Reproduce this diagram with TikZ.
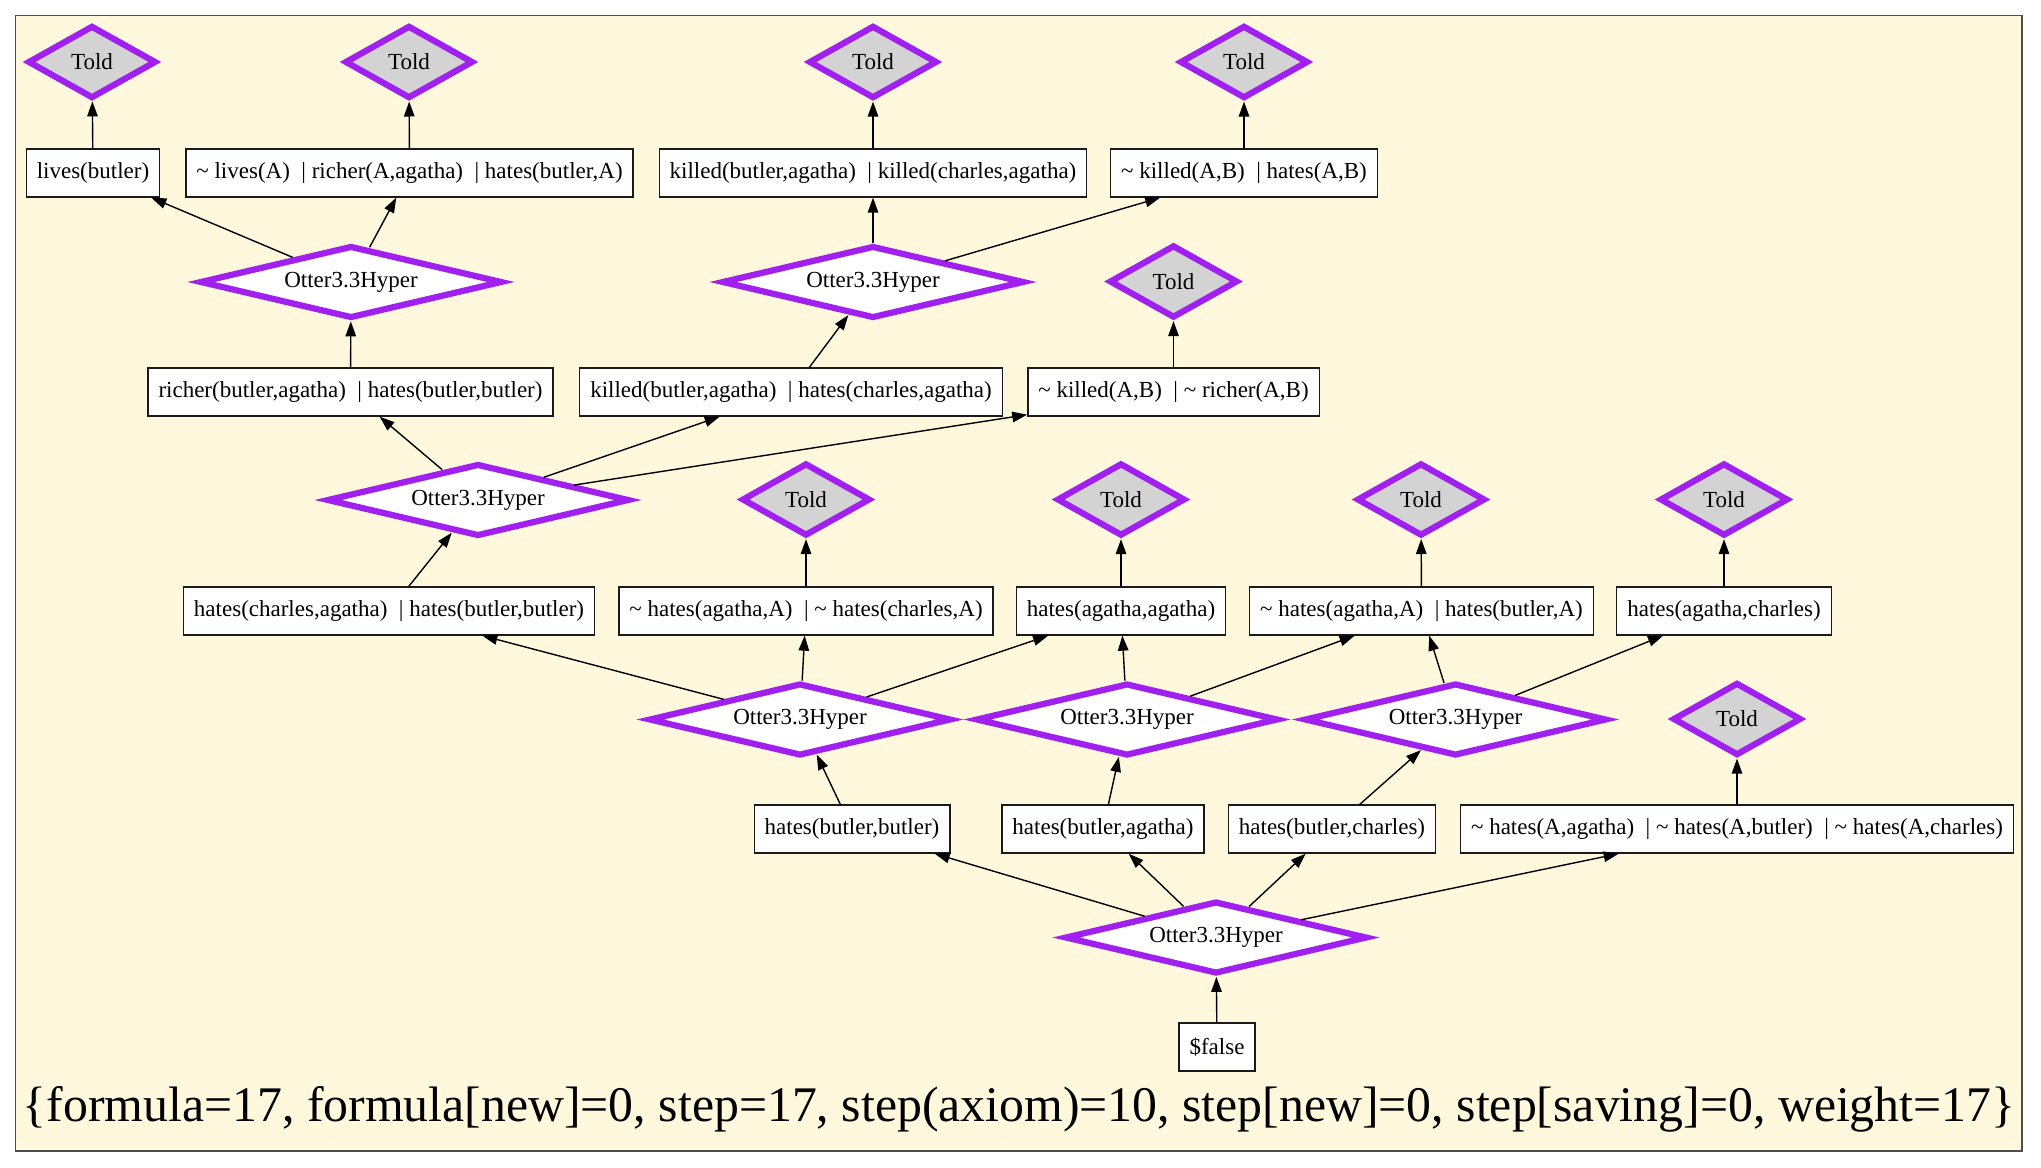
\documentclass[tikz,border=0pt]{standalone}
\usepackage{fontspec}
\setmainfont{Liberation Serif}
\usetikzlibrary{shapes.geometric,arrows.meta}
\definecolor{hyperpurple}{HTML}{A020F0}
\definecolor{toldgray}{HTML}{D3D3D3}
\definecolor{canvas}{HTML}{FFF8DC}
\definecolor{framegray}{HTML}{4D4D4D}
\definecolor{boxline}{HTML}{1A1A1A}
% negated literal and disjunction separator
\newcommand\notsym{\textasciitilde\ }
\newcommand\sepbar{\ \ |\ }

\begin{document}
\begin{tikzpicture}[x=1pt,y=-1pt,
  every node/.style={font=\fontsize{23}{27}\selectfont},
  clause/.style={rectangle, draw=boxline, line width=1.3pt, fill=white,
    minimum height=48pt, inner xsep=10.5pt, inner ysep=0pt},
  told/.style={diamond, draw=hyperpurple, line width=6.2pt, fill=toldgray,
    shape aspect=1.76, minimum width=128.5pt, minimum height=73pt, inner sep=0pt},
  hyper/.style={diamond, draw=hyperpurple, line width=6.2pt, fill=white,
    shape aspect=4.16, minimum width=302.5pt, minimum height=72.7pt, inner sep=0pt},
  link/.style={draw=black, line width=1.4pt, -{Triangle[length=15pt,width=10.5pt]}},
]
\useasboundingbox (0,0) rectangle (2041,1167);
\fill[white] (0,0) rectangle (2041,1167);
\draw[framegray, line width=1.5pt, fill=canvas] (15.6,15.7) rectangle (2022,1151);

% row 1: axioms
\node[told] (t1) at (92,62) {Told};
\node[told] (t2) at (409,62) {Told};
\node[told] (t3) at (873,62) {Told};
\node[told] (t4) at (1244,62) {Told};

% row 2
\node[clause] (b1) at (93,173) {lives(butler)};
\node[clause] (b2) at (409.5,173) {\notsym lives(A)\sepbar richer(A,agatha)\sepbar hates(butler,A)};
\node[clause] (b3) at (873,173) {killed(butler,agatha)\sepbar killed(charles,agatha)};
\node[clause] (b4) at (1244,173) {\notsym killed(A,B)\sepbar hates(A,B)};

% row 3
\node[hyper] (h1) at (351,282) {Otter3.3Hyper};
\node[hyper] (h2) at (873,282) {Otter3.3Hyper};
\node[told] (t5) at (1173.5,281.5) {Told};

% row 4
\node[clause] (b5) at (350.5,392) {richer(butler,agatha)\sepbar hates(butler,butler)};
\node[clause] (b6) at (791,392) {killed(butler,agatha)\sepbar hates(charles,agatha)};
\node[clause] (b7) at (1173.5,392) {\notsym killed(A,B)\sepbar\notsym richer(A,B)};

% row 5
\node[hyper] (h3) at (478,500) {Otter3.3Hyper};
\node[told] (t6) at (806,499.5) {Told};
\node[told] (t7) at (1121,499.5) {Told};
\node[told] (t8) at (1421,499.5) {Told};
\node[told] (t9) at (1724,499.5) {Told};

% row 6
\node[clause] (b8) at (389,611) {hates(charles,agatha)\sepbar hates(butler,butler)};
\node[clause] (b9) at (806,611) {\notsym hates(agatha,A)\sepbar\notsym hates(charles,A)};
\node[clause] (b10) at (1121,611) {hates(agatha,agatha)};
\node[clause] (b11) at (1421.5,611) {\notsym hates(agatha,A)\sepbar hates(butler,A)};
\node[clause] (b12) at (1724,611) {hates(agatha,charles)};

% row 7
\node[hyper] (h4) at (800,719.5) {Otter3.3Hyper};
\node[hyper] (h5) at (1127,719.5) {Otter3.3Hyper};
\node[hyper] (h6) at (1455.5,719.5) {Otter3.3Hyper};
\node[told] (t10) at (1737,719) {Told};

% row 8
\node[clause] (b13) at (852,829) {hates(butler,butler)};
\node[clause] (b14) at (1103,829) {hates(butler,agatha)};
\node[clause] (b15) at (1332,829) {hates(butler,charles)};
\node[clause] (b16) at (1737,829) {\notsym hates(A,agatha)\sepbar\notsym hates(A,butler)\sepbar\notsym hates(A,charles)};

% row 9
\node[hyper] (h7) at (1216,937.5) {Otter3.3Hyper};
\node[clause] (f) at (1217,1047) {\$false};

% statistics
\node[font=\fontsize{49.8}{56}\selectfont] (stats) at (1019,1109)
  {\{formula=17, formula[new]=0, step=17, step(axiom)=10, step[new]=0, step[saving]=0, weight=17\}};

% derivation edges
\draw[link] (b1) -- (t1);
\draw[link] (b2) -- (t2);
\draw[link] (b3) -- (t3);
\draw[link] (b4) -- (t4);
\draw[link] (h1) -- (b1);
\draw[link] (h1) -- (b2);
\draw[link] (b5) -- (h1);
\draw[link] (h2) -- (b3);
\draw[link] (h2) -- (b4);
\draw[link] (b6) -- (h2);
\draw[link] (b7) -- (t5);
\draw[link] (h3) -- (b5);
\draw[link] (h3) -- (b6);
\draw[link] (h3) -- (b7);
\draw[link] (b8) -- (h3);
\draw[link] (b9) -- (t6);
\draw[link] (b10) -- (t7);
\draw[link] (b11) -- (t8);
\draw[link] (b12) -- (t9);
\draw[link] (h4) -- (b8);
\draw[link] (h4) -- (b9);
\draw[link] (h4) -- (b10);
\draw[link] (b13) -- (h4);
\draw[link] (h5) -- (b10);
\draw[link] (h5) -- (b11);
\draw[link] (b14) -- (h5);
\draw[link] (h6) -- (b11);
\draw[link] (h6) -- (b12);
\draw[link] (b15) -- (h6);
\draw[link] (b16) -- (t10);
\draw[link] (h7) -- (b13);
\draw[link] (h7) -- (b14);
\draw[link] (h7) -- (b15);
\draw[link] (h7) -- (b16);
\draw[link] (f) -- (h7);
\end{tikzpicture}
\end{document}
